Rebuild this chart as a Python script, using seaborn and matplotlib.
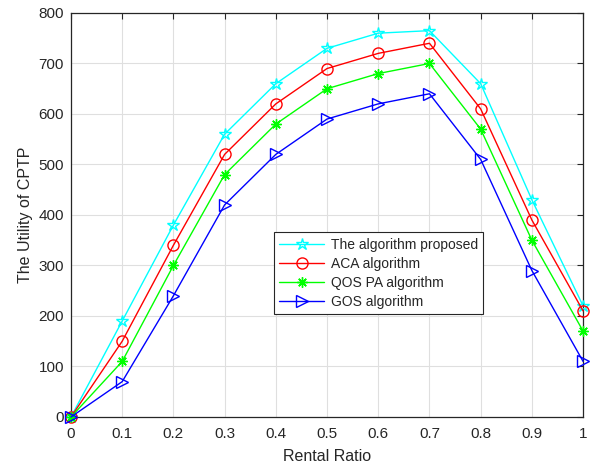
import numpy as np
import pandas as pd
import matplotlib
matplotlib.use("Agg")
import matplotlib.pyplot as plt
import seaborn as sns

# Rental ratio on the x axis
ratio = [0.0, 0.1, 0.2, 0.3, 0.4, 0.5, 0.6, 0.7, 0.8, 0.9, 1.0]

# Utility of CPTP for each algorithm
proposed = [0, 190, 380, 560, 660, 730, 760, 765, 660, 430, 220]
aca = [0, 150, 340, 520, 620, 690, 720, 740, 610, 390, 210]
qos_pa = [0, 110, 300, 480, 580, 650, 680, 700, 570, 350, 170]
gos = [0, 70, 240, 420, 520, 590, 620, 640, 510, 290, 110]

names = ["The algorithm proposed", "ACA algorithm", "QOS PA algorithm", "GOS algorithm"]
x_ticks = [0, 0.1, 0.2, 0.3, 0.4, 0.5, 0.6, 0.7, 0.8, 0.9, 1]
x_tick_labels = ["0", "0.1", "0.2", "0.3", "0.4", "0.5", "0.6", "0.7", "0.8", "0.9", "1"]
y_ticks = [0, 100, 200, 300, 400, 500, 600, 700, 800]

sns.set_style("whitegrid")
plt.rcParams["font.family"] = ["Liberation Sans", "DejaVu Sans"]

colors = ["#00ffff", "#ff0000", "#00ff00", "#0000ff"]
markers = ["*", "o", (8, 2, 0), ">"]
msizes = [9, 8, 7.5, 9]

fig = plt.figure(figsize=(5.93, 4.70), dpi=100)
ax = fig.add_axes([0.1197, 0.1128, 0.8636, 0.8596])

for name, vals, c, m, ms in zip(names, [proposed, aca, qos_pa, gos], colors, markers, msizes):
    df = pd.DataFrame({"ratio": ratio, "utility": vals})
    sns.lineplot(data=df, x="ratio", y="utility", ax=ax, color=c, lw=1.0,
                 marker=m, markersize=ms, markerfacecolor="none",
                 markeredgecolor=c, markeredgewidth=1.0, label=name,
                 clip_on=False, zorder=3)

ax.set_xlim(0, 1)
ax.set_ylim(0, 800)
ax.set_xticks(x_ticks)
ax.set_xticklabels(x_tick_labels)
ax.set_yticks(y_ticks)
ax.tick_params(axis="both", which="both", direction="in", length=4, width=0.8,
               colors="#262626", labelsize=11, top=True, right=True,
               labelcolor="#262626")
ax.tick_params(axis="x", pad=7)
ax.tick_params(axis="y", pad=5)
ax.grid(True, color="#dfdfdf", lw=0.8)
for s in ax.spines.values():
    s.set_color("#262626")
    s.set_linewidth(0.9)
    s.set_visible(True)

ax.set_xlabel("Rental Ratio", fontsize=11.5, color="#262626", labelpad=6)
ax.set_ylabel("The Utility of CPTP", fontsize=11.5, color="#262626", labelpad=4)

leg = ax.legend(loc="upper left", bbox_to_anchor=(0.396, 0.458), fontsize=10.0,
                frameon=True, fancybox=False, shadow=False, framealpha=1,
                edgecolor="#262626", handlelength=3.2, borderpad=0.4,
                labelspacing=0.36, handletextpad=0.5, borderaxespad=0)
leg.get_frame().set_linewidth(0.8)

fig.savefig("out.png", dpi=100)
